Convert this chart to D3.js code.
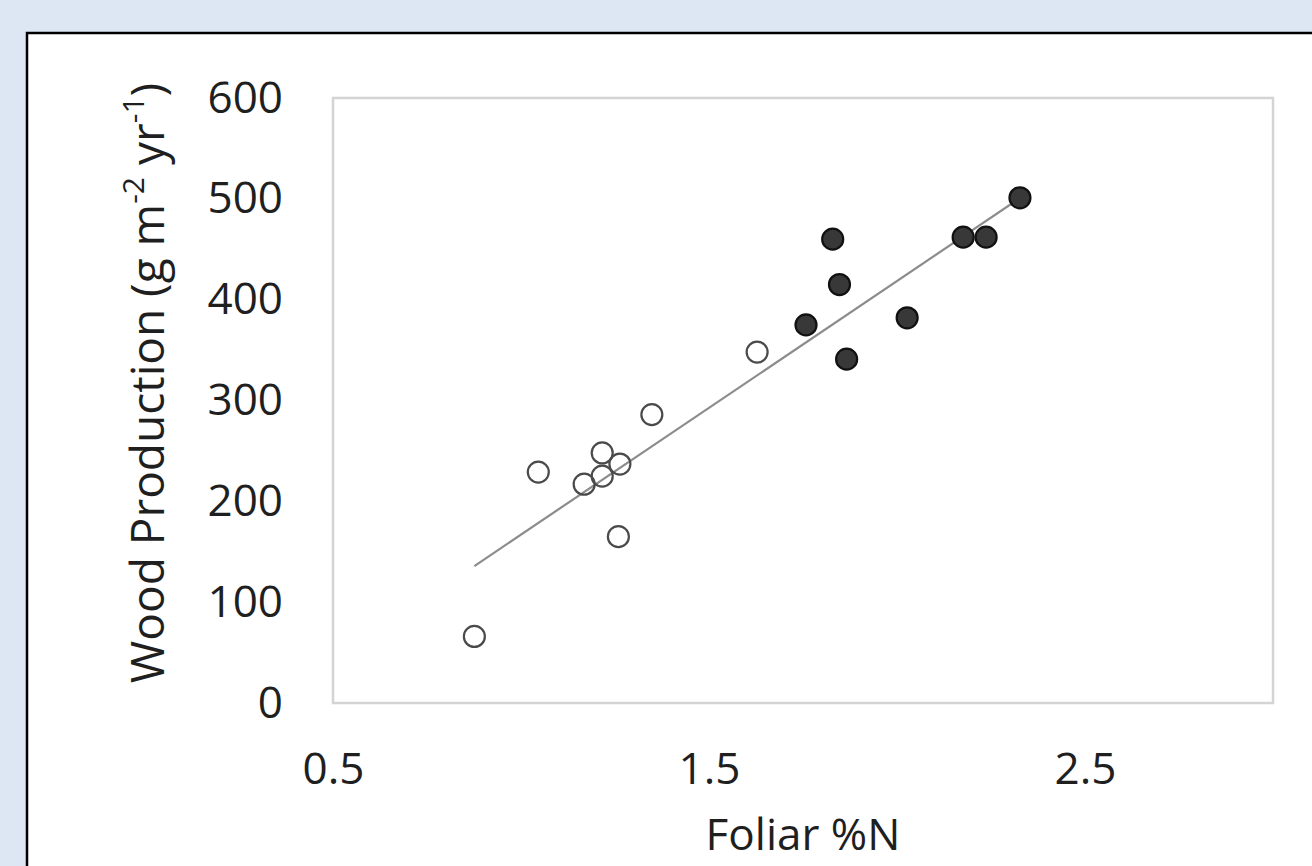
<!DOCTYPE html>
<html>
<head>
<meta charset="utf-8">
<script src="https://cdn.jsdelivr.net/npm/d3@7"></script>
<style>
  body { margin: 0; background: #dce7f3; }
  svg { display: block; }
</style>
</head>
<body>
<div id="chart"></div>
<script>
// low-N sites (open) and high-N sites (filled)
const openN = [0.876, 1.046, 1.168, 1.216, 1.216, 1.263, 1.259, 1.348, 1.628]
const openWood = [66, 229, 217, 248, 225, 237, 165, 286, 348]
const filledN = [1.758, 1.829, 1.847, 1.866, 2.027, 2.176, 2.237, 2.327]
const filledWood = [375, 460, 415, 341, 382, 462, 462, 501]
// linear trend
const trendSlope = 251.5
const trendIntercept = -84.5
const xTicks = [0.5, 1.5, 2.5]
const yTicks = [0, 100, 200, 300, 400, 500, 600]

const width = 1312, height = 866
const plot = { left: 333, top: 98, right: 1273, bottom: 703 }
const font = "'Open Sans', sans-serif"
const ink = '#1f1f1f'

const svg = d3.select('#chart').append('svg')
    .attr('width', width)
    .attr('height', height)

// white panel with black frame
svg.append('rect')
    .attr('x', 27).attr('y', 33)
    .attr('width', width).attr('height', height)
    .attr('fill', '#fff')
    .attr('stroke', '#000')
    .attr('stroke-width', 2.5)

const x = d3.scaleLinear().domain([0.5, 3.0]).range([plot.left, plot.right])
const y = d3.scaleLinear().domain([0, 600]).range([plot.bottom, plot.top])

// plot area border
svg.append('rect')
    .attr('x', plot.left).attr('y', plot.top)
    .attr('width', plot.right - plot.left).attr('height', plot.bottom - plot.top)
    .attr('fill', 'none')
    .attr('stroke', '#d4d4d4')
    .attr('stroke-width', 2.5)

// axes (labels only, no tick marks)
const xAxis = svg.append('g')
    .attr('transform', `translate(0, ${plot.bottom + 66})`)
    .call(d3.axisBottom(x).tickValues(xTicks).tickSize(0).tickPadding(0).tickFormat(d3.format('.1f')))
xAxis.select('.domain').remove()
xAxis.selectAll('text')
    .attr('dy', '0.35em')
    .style('font-family', font).style('font-size', '44px').attr('fill', ink)

const yAxis = svg.append('g')
    .attr('transform', `translate(${plot.left - 50}, 0)`)
    .call(d3.axisLeft(y).tickValues(yTicks).tickSize(0).tickPadding(0))
yAxis.select('.domain').remove()
yAxis.selectAll('text')
    .style('font-family', font).style('font-size', '44px').attr('fill', ink)

// axis titles
svg.append('text')
    .attr('x', (plot.left + plot.right) / 2)
    .attr('y', 835)
    .attr('dy', '0.35em')
    .attr('text-anchor', 'middle')
    .style('font-family', font).style('font-size', '44px').attr('fill', ink)
    .text('Foliar %N')

const yTitle = svg.append('text')
    .attr('transform', `translate(164, 383) rotate(-90)`)
    .attr('text-anchor', 'middle')
    .style('font-family', font).style('font-size', '46px').attr('fill', ink)
yTitle.append('tspan').text('Wood Production (g m')
yTitle.append('tspan').attr('baseline-shift', 'super').style('font-size', '30px').text('-2')
yTitle.append('tspan').text(' yr')
yTitle.append('tspan').attr('baseline-shift', 'super').style('font-size', '30px').text('-1')
yTitle.append('tspan').text(')')

// trend line over the range of the data
const allN = openN.concat(filledN)
const trend = d3.extent(allN).map(n => [n, trendIntercept + trendSlope * n])
svg.append('path')
    .datum(trend)
    .attr('d', d3.line().x(d => x(d[0])).y(d => y(d[1])))
    .attr('stroke', '#8c8c8c')
    .attr('stroke-width', 2.2)
    .attr('fill', 'none')

svg.append('g').selectAll('circle')
    .data(d3.zip(openN, openWood))
    .join('circle')
    .attr('cx', d => x(d[0]))
    .attr('cy', d => y(d[1]))
    .attr('r', 10.5)
    .attr('fill', 'none')
    .attr('stroke', '#4a4a4a')
    .attr('stroke-width', 2.2)

svg.append('g').selectAll('circle')
    .data(d3.zip(filledN, filledWood))
    .join('circle')
    .attr('cx', d => x(d[0]))
    .attr('cy', d => y(d[1]))
    .attr('r', 10.5)
    .attr('fill', '#383838')
    .attr('stroke', '#111')
    .attr('stroke-width', 2.2)
</script>
</body>
</html>
